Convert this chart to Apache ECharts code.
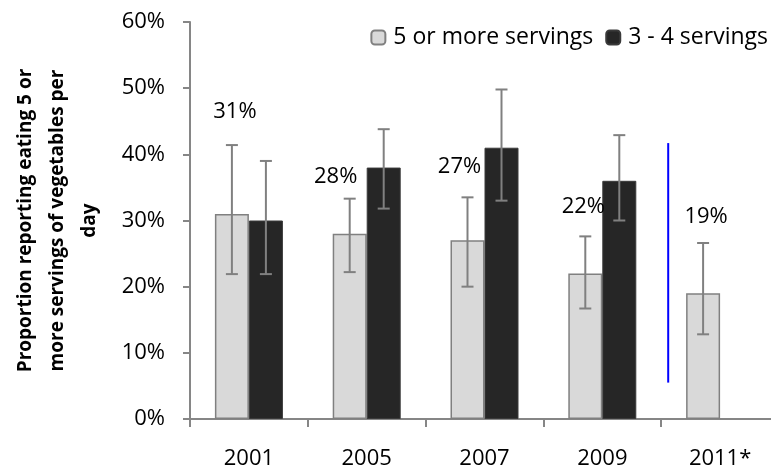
<!DOCTYPE html>
<html>
<head>
<meta charset="utf-8">
<script src="https://cdn.jsdelivr.net/npm/echarts@6/dist/echarts.min.js"></script>
<style>html,body{margin:0;padding:0;background:#fff}#c{width:771px;height:468px}</style>
</head>
<body>
<div id="c"></div>
<script>
const categories = ['2001', '2005', '2007', '2009', '2011*'];
const fivePlus = [31, 28, 27, 22, 19];
const fivePlusLow = [21.9, 22.2, 20.0, 16.7, 12.8];
const fivePlusHigh = [41.4, 33.3, 33.5, 27.6, 26.6];
const threeFour = [30, 38, 41, 36, null];
const threeFourLow = [21.9, 31.8, 33.0, 30.0, null];
const threeFourHigh = [39.0, 43.8, 49.8, 42.9, null];
const separatorRange = [5.5, 41.7];
const yTicks = [0, 10, 20, 30, 40, 50, 60];

const FONT = 'Open Sans';
const BAR_W = 34;
const labelOffsets = [[3, -86], [-14, -41], [-8, -58], [-2, -51], [3, -61]];

const chart = echarts.init(document.getElementById('c'), null, {renderer: 'canvas'});

function errData(low, high) {
  return categories.map((c, i) => low[i] == null ? null : [i, low[i], high[i]]).filter(d => d);
}
function errRender(dir) {
  return function (params, api) {
    const i = api.value(0);
    const lo = api.coord([i, api.value(1)]);
    const hi = api.coord([i, api.value(2)]);
    const x = lo[0] + dir * BAR_W / 2;
    const cap = 6;
    const style = {stroke: '#808080', lineWidth: 2};
    return {
      type: 'group',
      children: [
        {type: 'line', shape: {x1: x, y1: lo[1], x2: x, y2: hi[1]}, style},
        {type: 'line', shape: {x1: x - cap, y1: lo[1], x2: x + cap, y2: lo[1]}, style},
        {type: 'line', shape: {x1: x - cap, y1: hi[1], x2: x + cap, y2: hi[1]}, style}
      ]
    };
  };
}

chart.setOption({
  animation: false,
  textStyle: {fontFamily: FONT},
  grid: {left: 190, right: -8, top: 22, bottom: 49, containLabel: false, outerBoundsMode: 'none'},
  legend: {
    right: 3, top: 26, padding: 0,
    itemWidth: 14, itemHeight: 14, itemGap: 12,
    textStyle: {fontFamily: FONT, fontSize: 23, color: '#000', padding: [0, 0, 0, 3]},
    data: ['5 or more servings', '3 - 4 servings']
  },
  xAxis: {
    type: 'category', data: categories,
    axisLine: {lineStyle: {color: '#868686', width: 2}},
    axisTick: {show: true, length: 8, alignWithLabel: false, lineStyle: {color: '#868686', width: 2}},
    axisLabel: {fontFamily: FONT, fontSize: 22, color: '#000', margin: 29}
  },
  yAxis: {
    type: 'value', min: yTicks[0], max: yTicks[yTicks.length - 1], interval: 10,
    splitLine: {show: false},
    axisLine: {show: true, lineStyle: {color: '#868686', width: 2}},
    axisTick: {show: true, length: 7, lineStyle: {color: '#868686', width: 2}},
    axisLabel: {fontFamily: FONT, fontSize: 22, color: '#000', margin: 25, formatter: '{value}%'},
    name: 'Proportion reporting eating 5 or\nmore servings of vegetables per\nday',
    nameLocation: 'middle', nameRotate: 90, nameGap: 84,
    nameTextStyle: {fontFamily: FONT, fontSize: 19, fontWeight: 'bold', color: '#000', lineHeight: 32, align: 'center'}
  },
  series: [
    {
      name: '5 or more servings', type: 'bar', barWidth: BAR_W, barGap: '0%',
      itemStyle: {color: '#d9d9d9', borderColor: '#808080', borderWidth: 1.5},
      data: fivePlus.map((v, i) => ({
        value: v,
        label: {show: true, position: 'top', offset: labelOffsets[i], formatter: v + '%',
          fontFamily: FONT, fontSize: 22, color: '#000'}
      }))
    },
    {
      name: '3 - 4 servings', type: 'bar', barWidth: BAR_W, barGap: '0%',
      itemStyle: {color: '#262626', borderColor: '#3a3a3a', borderWidth: 1},
      data: threeFour
    },
    {
      type: 'custom', renderItem: errRender(-1), data: errData(fivePlusLow, fivePlusHigh),
      encode: {x: 0, y: [1, 2]}, z: 5, silent: true
    },
    {
      type: 'custom', renderItem: errRender(1), data: errData(threeFourLow, threeFourHigh),
      encode: {x: 0, y: [1, 2]}, z: 5, silent: true
    },
    {
      type: 'custom', silent: true, z: 5,
      data: [[3, separatorRange[0], separatorRange[1]]],
      encode: {x: 0, y: [1, 2]},
      renderItem: function (params, api) {
        const a = api.coord([3, api.value(1)]);
        const b = api.coord([4, api.value(2)]);
        const x = (a[0] + b[0]) / 2 + 7;
        return {type: 'line', shape: {x1: x, y1: a[1], x2: x, y2: b[1]}, style: {stroke: '#0000ff', lineWidth: 2}};
      }
    }
  ]
});
</script>
</body>
</html>
